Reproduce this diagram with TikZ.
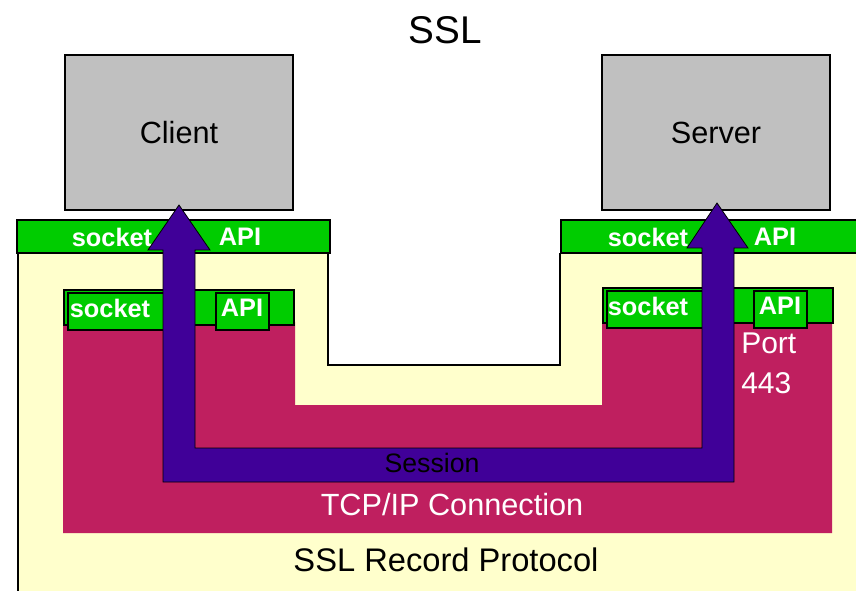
\documentclass[tikz,border=0pt]{standalone}
\usepackage{fontspec}
\setmainfont{Liberation Sans}
\usetikzlibrary{positioning}

\definecolor{hostgray}{HTML}{C0C0C0}
\definecolor{recyellow}{HTML}{FFFFCC}
\definecolor{apigreen}{HTML}{00CC00}
\definecolor{tcpred}{HTML}{BF1F5F}
\definecolor{sesspurple}{HTML}{400098}

\begin{document}
\begin{tikzpicture}[x=0.75pt,y=-0.75pt,
  host/.style={draw,line width=1.1pt,fill=hostgray,minimum width=171pt,minimum height=116.25pt,font=\fontsize{23}{26}\selectfont},
  bar/.style={draw,line width=0.9pt,fill=apigreen},
  apitext/.style={text=white,inner sep=0pt,font=\bfseries\fontsize{19}{22}\selectfont},
  big/.style={inner sep=0pt,font=\fontsize{23}{26}\selectfont}]
\clip (0,0) rectangle (856,591);

% record protocol layer (U shape)
\fill[recyellow] (18,253) -- (328,253) -- (328,365) -- (560,365) -- (560,253) -- (870,253) -- (870,600) -- (18,600) -- cycle;
\draw[line width=0.9pt] (18,600) -- (18,253) (328,253) -- (328,365) -- (560,365) -- (560,253);
% tcp connection layer
\fill[tcpred] (63,322) -- (295,322) -- (295,405) -- (602,405) -- (602,322) -- (832,322) -- (832,533) -- (63,533) -- cycle;

% hosts
\node[host] (client) at (179,132.5) {Client};
\node[host] (server) at (716,132.5) {Server};
\node[big,font=\fontsize{29}{32}\selectfont] (title) at (445,30) {SSL};

% socket api bars
\filldraw[bar] (17,220) rectangle (330,253);
\filldraw[bar] (561,220) rectangle (870,253);
\filldraw[bar] (64,290) rectangle (294,325);
\filldraw[bar] (68,293) rectangle (180,330);
\filldraw[bar] (216,293) rectangle (269,330);
\filldraw[bar] (603,288) rectangle (833,323);
\filldraw[bar] (607,291) rectangle (715,328);
\filldraw[bar] (754,291) rectangle (807,328);

\node[apitext] (sockA) at (112,237) {socket};
\node[apitext] (apiA) at (240,237) {API};
\node[apitext] (sockB) at (648,237) {socket};
\node[apitext] (apiB) at (775,237) {API};
\node[apitext] (sockC) at (110,308) {socket};
\node[apitext] (apiC) at (242,308) {API};
\node[apitext] (sockD) at (648,306) {socket};
\node[apitext] (apiD) at (780,306) {API};

% session arrow from client to server
\coordinate (tipA) at (179,205);
\coordinate (tipB) at (717,203);
\filldraw[fill=sesspurple,draw=black,line width=0.6pt]
  (tipA) -- (210,250) -- (195,250) -- (195,448) -- (702,448) -- (702,248) -- (687,248)
  -- (tipB) -- (748,248) -- (734,248) -- (734,482) -- (163,482) -- (163,250) -- (148,250) -- cycle;

\node[big,font=\fontsize{20}{24}\selectfont] (session) at (432,463) {Session};
\node[big,text=white] (tcpip) at (452,505) {TCP/IP Connection};
\node[big,font=\fontsize{24.5}{28}\selectfont] (record) at (446,560) {SSL Record Protocol};
\node[big,text=white,anchor=north west,align=left,font=\fontsize{22.5}{30}\selectfont] (port) at (741,333) {Port\\443};
\end{tikzpicture}
\end{document}
